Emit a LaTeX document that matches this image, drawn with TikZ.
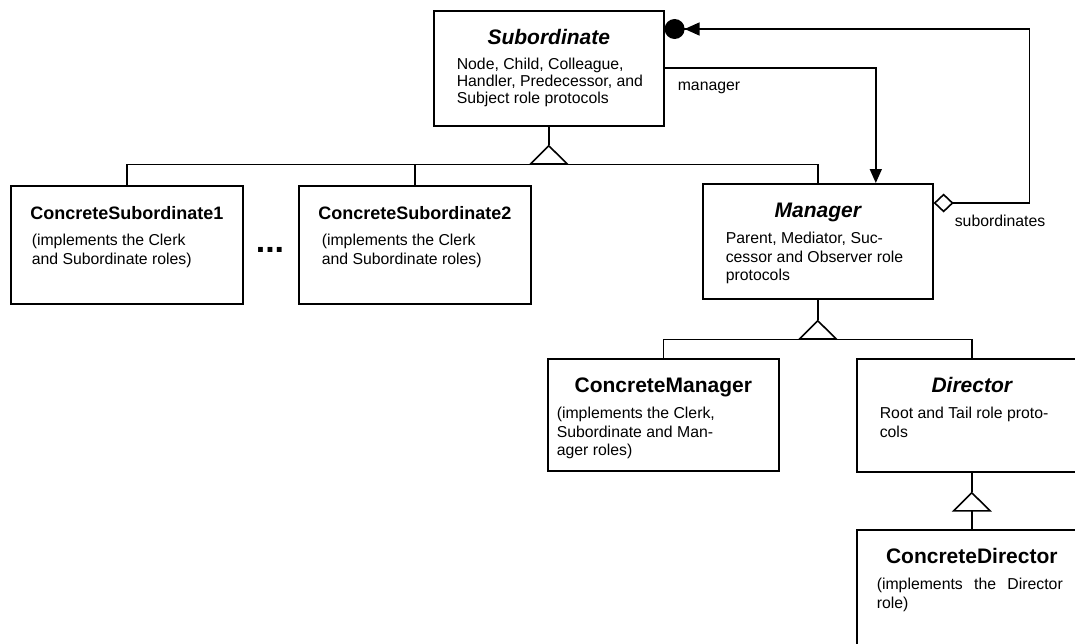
\documentclass[tikz,border=0pt]{standalone}
\usepackage{fontspec}
\setmainfont{Liberation Sans}
\usetikzlibrary{arrows.meta}

\newcommand{\titlefont}{\fontsize{21}{21}\selectfont\bfseries}
\newcommand{\bodyfont}{\fontsize{15.8}{18.5}\selectfont}
\newcommand{\umlabstract}[1]{{\titlefont\itshape #1}}
\newcommand{\umlconcrete}[1]{{\titlefont #1}}
\newcommand{\umlsmall}[1]{{\fontsize{18}{18}\selectfont\bfseries #1}}
% class text: width, height, inset, title, body
\newcommand{\classtext}[5]{\parbox[t][#2][t]{#1}{\centering\rule{0pt}{34pt}#4\par
  \vspace{7.5pt}\raggedright\leftskip=#3\bodyfont #5\par}}

\begin{document}
\begin{tikzpicture}[x=1pt,y=-1pt]
  \tikzset{classbox/.style={rectangle, draw=black, line width=1.6pt,
             inner sep=0pt, anchor=north west},
           rolelabel/.style={font=\bodyfont, inner sep=0pt, anchor=base west},
           conn/.style={line width=1.6pt},
           inherit/.style={conn, -{Triangle[open, length=20pt, width=40pt]}}}
  \useasboundingbox (0,0) rectangle (1075,643);
  \clip (0,0) rectangle (1075,643);

  % classes
  \node[classbox] (sub) at (433,10) {\classtext{230pt}{115pt}{23pt}{\umlabstract{Subordinate}}%
    {\baselineskip=17pt Node, Child, Colleague,\\ Handler, Predecessor, and\\ Subject role protocols}};
  \node[classbox] (cs1) at (10,185) {\classtext{232pt}{118pt}{21pt}{\umlsmall{ConcreteSubordinate1}}%
    {(implements the Clerk\\ and Subordinate roles)}};
  \node[classbox] (cs2) at (298,185) {\classtext{232pt}{118pt}{23pt}{\umlsmall{ConcreteSubordinate2}}%
    {(implements the Clerk\\ and Subordinate roles)}};
  \node[classbox] (mgr) at (702,183) {\classtext{230pt}{115pt}{23pt}{\umlabstract{Manager}}%
    {Parent, Mediator, Suc-\\ cessor and Observer role\\ protocols}};
  \node[classbox] (cm) at (547,358) {\classtext{231pt}{112pt}{9pt}{\umlconcrete{ConcreteManager}}%
    {(implements the Clerk,\\ Subordinate and Man-\\ ager roles)}};
  \node[classbox] (dir) at (856,358) {\classtext{230pt}{113pt}{23pt}{\umlabstract{Director}}%
    {Root and Tail role proto-\\ cols}};
  \node[classbox] (cd) at (856,529) {\classtext{230pt}{130pt}{20pt}{\umlconcrete{ConcreteDirector}}%
    {\makebox[186pt][s]{(implements the Director}\\ role)}};
  \node[font=\fontsize{34}{34}\selectfont\bfseries, inner sep=0pt, anchor=base] (more) at (270,252) {...};

  % generalisation
  \draw[conn] (sub.south) -- ++(0,18) coordinate (subtip);
  \draw[inherit] ([yshift=-38pt]sub.south) coordinate (subbar) -- (subtip);
  \draw[conn] (cs1.north) |- (subbar) -| (mgr.north);
  \draw[conn] (cs2.north) -- (cs2.north |- subbar);

  \draw[conn] (mgr.south) -- ++(0,20) coordinate (mgrtip);
  \draw[inherit] ([yshift=-40pt]mgr.south) coordinate (mgrbar) -- (mgrtip);
  \draw[conn] (cm.north) |- (mgrbar) -| (dir.north);

  \draw[conn] (dir.south) -- ++(0,19) coordinate (dirtip);
  \draw[inherit] ([yshift=-39pt]dir.south) coordinate (dirbar) -- (dirtip);
  \draw[conn] (dirbar) -- (cd.north);

  % associations
  \draw[conn, -{Triangle[length=14pt, width=12pt]}]
    ([yshift=-58pt]sub.north east) -| ([xshift=58pt]mgr.north);
  \draw[conn, {Diamond[open, length=20pt, width=19pt]}-{Triangle[length=15pt, width=13pt] Circle[length=20pt]}]
    ([yshift=-20pt]mgr.north east) -- ++(96,0) |- ([yshift=-19pt]sub.north east);
  \node[rolelabel] (mgrrole) at ([xshift=13pt, yshift=-80pt]sub.north east) {manager};
  \node[rolelabel] (subrole) at ([xshift=21pt, yshift=-43pt]mgr.north east) {subordinates};
\end{tikzpicture}
\end{document}
